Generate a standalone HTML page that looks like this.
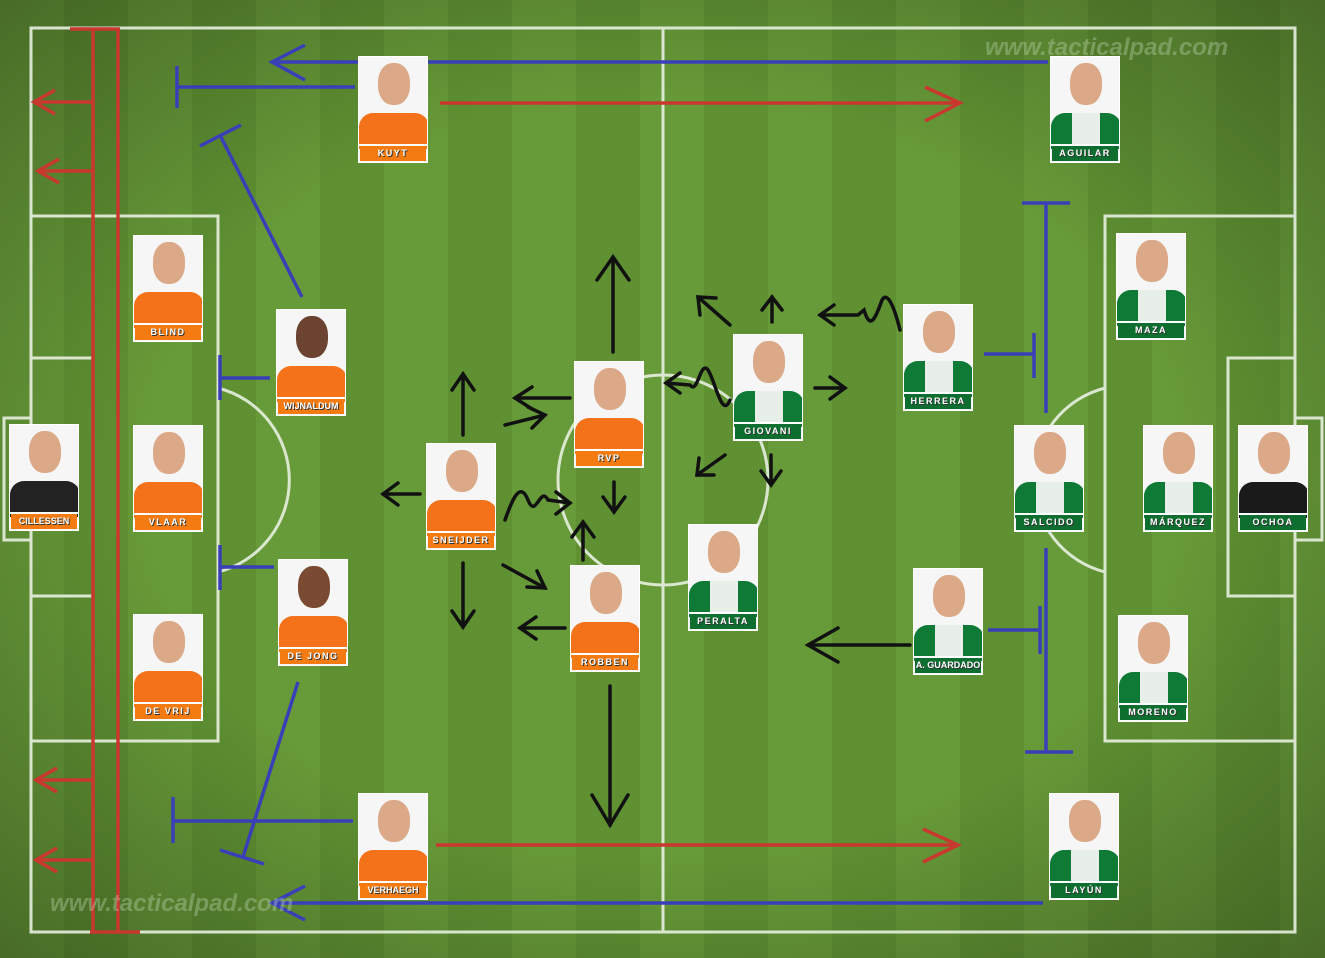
<!DOCTYPE html>
<html><head><meta charset="utf-8"><style>
body{margin:0;width:1325px;height:958px;overflow:hidden;background:#4a7f28;font-family:"Liberation Sans",sans-serif}
#f{position:absolute;left:0;top:0;width:1325px;height:958px;
background:radial-gradient(ellipse at center,rgba(0,0,0,0) 55%,rgba(0,0,0,.3) 100%),repeating-linear-gradient(90deg,#679a38 0 64px,#5f9132 64px 128px)}
.c{position:absolute;width:70px;height:107px;background:#f6f6f6;border:1px solid #fff;box-sizing:border-box;overflow:hidden}
.c .b{position:absolute;left:1px;right:1px;bottom:1px;height:15px;color:#fff;font-size:9px;font-weight:bold;letter-spacing:1.5px;text-align:center;line-height:15px;text-shadow:1px 1px 0 #333}
.c:after{content:"";position:absolute;left:0;right:0;bottom:16px;height:2px;background:#fff}
.n .b{background:#f47b12}.m .b{background:#0d6e2f}
.c .h{position:absolute;left:19px;top:6px;width:32px;height:42px;border-radius:45%;background:#dba987}
.c .s{position:absolute;left:0;top:56px;width:70px;height:36px;border-radius:14px 14px 0 0}
.n .s{background:#f4721a}.m .s{background:linear-gradient(90deg,#0e7a35 30%,#e8efe8 30% 70%,#0e7a35 70%)}
.k .s{background:#222}
.wm{position:absolute;color:rgba(200,220,190,.35);font-style:italic;font-weight:bold;font-size:24px}
</style></head><body><div id="f"></div>
<svg width="1325" height="958" style="position:absolute;left:0;top:0">
<g fill="none" stroke="#e8f0e0" stroke-width="3" opacity=".9">
<rect x="31" y="28" width="1264" height="904"/>
<line x1="663" y1="28" x2="663" y2="932"/>
<circle cx="663" cy="480" r="105"/>
<rect x="31" y="216" width="187" height="525"/>
<rect x="31" y="358" width="62" height="238"/>
<rect x="4" y="418" width="27" height="122"/>
<path d="M218 388 A95 95 0 0 1 218 572"/>
<rect x="1105" y="216" width="190" height="525"/>
<rect x="1228" y="358" width="67" height="238"/>
<rect x="1295" y="418" width="27" height="122"/>
<path d="M1105 388 A95 95 0 0 0 1105 572"/>
</g>
<g fill="none" stroke="#3a3fb8" stroke-width="3.5">
<line x1="1048" y1="62" x2="272" y2="62"/><polyline points="305,45 272,62 305,80"/>
<line x1="355" y1="87" x2="177" y2="87"/><line x1="177" y1="66" x2="177" y2="108"/>
<line x1="302" y1="297" x2="220" y2="135"/><line x1="200" y1="146" x2="241" y2="125"/>
<line x1="270" y1="378" x2="220" y2="378"/><line x1="220" y1="355" x2="220" y2="400"/>
<line x1="274" y1="567" x2="220" y2="567"/><line x1="220" y1="545" x2="220" y2="590"/>
<line x1="298" y1="682" x2="243" y2="857"/><line x1="220" y1="850" x2="264" y2="864"/>
<line x1="353" y1="821" x2="173" y2="821"/><line x1="173" y1="797" x2="173" y2="843"/>
<line x1="1043" y1="903" x2="272" y2="903"/><polyline points="305,886 272,903 305,920"/>
<line x1="1046" y1="203" x2="1046" y2="413"/><line x1="1022" y1="203" x2="1070" y2="203"/>
<line x1="984" y1="354" x2="1034" y2="354"/><line x1="1034" y1="333" x2="1034" y2="378"/>
<line x1="1046" y1="548" x2="1046" y2="752"/><line x1="1025" y1="752" x2="1073" y2="752"/>
<line x1="988" y1="630" x2="1040" y2="630"/><line x1="1040" y1="606" x2="1040" y2="654"/>
</g>
<g fill="none" stroke="#c8382e" stroke-width="3.5">
<line x1="440" y1="103" x2="960" y2="103"/><polyline points="925,87 960,103 925,121"/>
<line x1="436" y1="845" x2="958" y2="845"/><polyline points="923,829 958,845 923,862"/>
<line x1="93" y1="28" x2="93" y2="932"/><line x1="118" y1="28" x2="118" y2="932"/>
<line x1="70" y1="29" x2="120" y2="29"/><line x1="90" y1="932" x2="140" y2="932"/>
<line x1="93" y1="102" x2="34" y2="102"/><polyline points="55,90 34,102 55,114"/>
<line x1="93" y1="171" x2="38" y2="171"/><polyline points="59,159 38,171 59,183"/>
<line x1="93" y1="780" x2="36" y2="780"/><polyline points="57,768 36,780 57,792"/>
<line x1="93" y1="860" x2="36" y2="860"/><polyline points="57,848 36,860 57,872"/>
</g>
<g fill="none" stroke="#111" stroke-width="3.5" stroke-linecap="round">
<line x1="613" y1="352" x2="613" y2="257"/><polyline points="597,280 613,257 629,280"/>
<line x1="463" y1="435" x2="463" y2="374"/><polyline points="452,390 463,374 474,390"/>
<line x1="570" y1="398" x2="515" y2="398"/><polyline points="532,387 515,398 532,409"/>
<line x1="505" y1="425" x2="545" y2="415"/><polyline points="528,407 545,415 532,428"/>
<line x1="420" y1="494" x2="383" y2="494"/><polyline points="398,483 383,494 398,505"/>
<line x1="463" y1="563" x2="463" y2="627"/><polyline points="452,611 463,627 474,611"/>
<line x1="503" y1="565" x2="545" y2="588"/><polyline points="527,587 545,588 537,571"/>
<line x1="583" y1="560" x2="583" y2="522"/><polyline points="572,537 583,522 594,537"/>
<line x1="614" y1="482" x2="614" y2="512"/><polyline points="603,497 614,512 625,497"/>
<line x1="565" y1="628" x2="520" y2="628"/><polyline points="536,617 520,628 536,639"/>
<line x1="610" y1="686" x2="610" y2="825"/><polyline points="592,795 610,825 628,795"/>
<path d="M505 520 C512 500 520 480 528 500 C536 520 540 485 548 500 L570 503"/><polyline points="556,492 570,503 556,514"/>
<line x1="730" y1="325" x2="698" y2="297"/><polyline points="700,315 698,297 716,298"/>
<line x1="772" y1="322" x2="772" y2="297"/><polyline points="762,310 772,297 782,310"/>
<path d="M730 400 C722 420 715 380 708 370 C700 360 698 395 690 385 L666 383"/><polyline points="680,373 666,383 680,393"/>
<line x1="815" y1="388" x2="845" y2="388"/><polyline points="830,377 845,388 830,399"/>
<line x1="771" y1="455" x2="771" y2="485"/><polyline points="761,471 771,485 781,471"/>
<line x1="725" y1="455" x2="697" y2="475"/><polyline points="699,458 697,475 714,475"/>
<path d="M900 330 C895 310 888 290 882 300 C875 320 870 330 864 310 L858 315 L820 315"/><polyline points="834,305 820,315 834,325"/>
<line x1="910" y1="645" x2="808" y2="645"/><polyline points="838,628 808,645 838,662"/>
</g>
</svg>
<div class="wm" style="left:985px;top:34px">www.tacticalpad.com</div>
<div class="wm" style="left:50px;top:890px">www.tacticalpad.com</div>

<div class="c n" style="left:358px;top:56px"><div class="h"></div><div class="s"></div><div class="b">KUYT</div></div>
<div class="c m" style="left:1050px;top:56px"><div class="h"></div><div class="s"></div><div class="b">AGUILAR</div></div>
<div class="c n" style="left:133px;top:235px"><div class="h"></div><div class="s"></div><div class="b">BLIND</div></div>
<div class="c n" style="left:276px;top:309px"><div class="h" style="background:#6b4330"></div><div class="s"></div><div class="b" style="letter-spacing:0">WIJNALDUM</div></div>
<div class="c n k" style="left:9px;top:424px"><div class="h"></div><div class="s"></div><div class="b" style="letter-spacing:0">CILLESSEN</div></div>
<div class="c n" style="left:133px;top:425px"><div class="h"></div><div class="s"></div><div class="b">VLAAR</div></div>
<div class="c n" style="left:133px;top:614px"><div class="h"></div><div class="s"></div><div class="b">DE VRIJ</div></div>
<div class="c n" style="left:278px;top:559px"><div class="h" style="background:#7a4a32"></div><div class="s"></div><div class="b">DE JONG</div></div>
<div class="c n" style="left:358px;top:793px"><div class="h"></div><div class="s"></div><div class="b" style="letter-spacing:0">VERHAEGH</div></div>
<div class="c n" style="left:426px;top:443px"><div class="h"></div><div class="s"></div><div class="b">SNEIJDER</div></div>
<div class="c n" style="left:574px;top:361px"><div class="h"></div><div class="s"></div><div class="b">RVP</div></div>
<div class="c n" style="left:570px;top:565px"><div class="h"></div><div class="s"></div><div class="b">ROBBEN</div></div>
<div class="c m" style="left:733px;top:334px"><div class="h"></div><div class="s"></div><div class="b">GIOVANI</div></div>
<div class="c m" style="left:688px;top:524px"><div class="h"></div><div class="s"></div><div class="b">PERALTA</div></div>
<div class="c m" style="left:903px;top:304px"><div class="h"></div><div class="s"></div><div class="b">HERRERA</div></div>
<div class="c m" style="left:913px;top:568px"><div class="h"></div><div class="s"></div><div class="b" style="letter-spacing:0">A. GUARDADO</div></div>
<div class="c m" style="left:1014px;top:425px"><div class="h"></div><div class="s"></div><div class="b">SALCIDO</div></div>
<div class="c m" style="left:1116px;top:233px"><div class="h"></div><div class="s"></div><div class="b">MAZA</div></div>
<div class="c m" style="left:1143px;top:425px"><div class="h"></div><div class="s"></div><div class="b">MÁRQUEZ</div></div>
<div class="c m k" style="left:1238px;top:425px"><div class="h"></div><div class="s" style="background:#1a1a1a"></div><div class="b">OCHOA</div></div>
<div class="c m" style="left:1118px;top:615px"><div class="h"></div><div class="s"></div><div class="b">MORENO</div></div>
<div class="c m" style="left:1049px;top:793px"><div class="h"></div><div class="s"></div><div class="b">LAYÚN</div></div>
</body></html>
